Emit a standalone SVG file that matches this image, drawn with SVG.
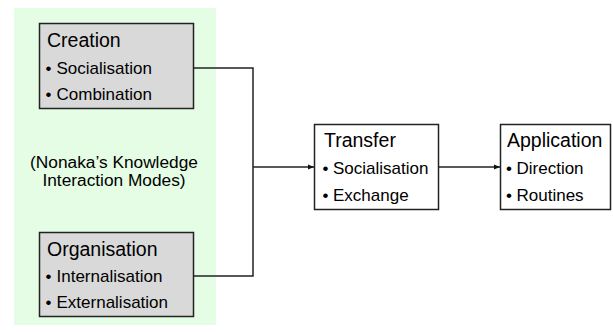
<svg xmlns="http://www.w3.org/2000/svg" width="613" height="332" viewBox="0 0 613 332">
  <style>
    .t { font-family: "Liberation Sans", Arial, sans-serif; fill: #000; }
    .title { font-size: 19.5px; }
    .item { font-size: 17px; }
    .note { font-size: 17.3px; }
    .grey { fill: #d9d9d9; stroke: #222; stroke-width: 1.5; }
    .white { fill: #fff; stroke: #222; stroke-width: 1.5; }
    .wire { fill: none; stroke: #222; stroke-width: 1.5; }
  </style>
  <defs>
    <marker id="arrow" viewBox="0 0 6 6" refX="6" refY="3" markerWidth="6" markerHeight="6" markerUnits="userSpaceOnUse" orient="auto">
      <path d="M0,0.5 L6,3 L0,5.5 Z" fill="#111"/>
    </marker>
  </defs>

  <!-- knowledge interaction modes panel -->
  <rect x="14" y="8" width="202" height="317" fill="#e5fde5"/>
  <text class="t note" x="114" y="168" text-anchor="middle">(Nonaka’s Knowledge</text>
  <text class="t note" x="114" y="186" text-anchor="middle">Interaction Modes)</text>

  <g id="creation">
    <rect class="grey" x="39.5" y="23.5" width="154" height="85"/>
    <text class="t title" x="47" y="47">Creation</text>
    <text class="t item" x="45.5" y="74">•</text>
    <text class="t item" x="56.5" y="74">Socialisation</text>
    <text class="t item" x="45.5" y="100">•</text>
    <text class="t item" x="56.5" y="100">Combination</text>
  </g>

  <g id="organisation">
    <rect class="grey" x="39.5" y="232.5" width="154" height="84"/>
    <text class="t title" x="47" y="256">Organisation</text>
    <text class="t item" x="45.5" y="282">•</text>
    <text class="t item" x="56.5" y="282">Internalisation</text>
    <text class="t item" x="45.5" y="308">•</text>
    <text class="t item" x="56.5" y="308">Externalisation</text>
  </g>

  <g id="transfer">
    <rect class="white" x="314.5" y="124.5" width="124" height="85"/>
    <text class="t title" x="324" y="147">Transfer</text>
    <text class="t item" x="322.5" y="174">•</text>
    <text class="t item" x="333" y="174">Socialisation</text>
    <text class="t item" x="322.5" y="201">•</text>
    <text class="t item" x="333" y="201">Exchange</text>
  </g>

  <g id="application">
    <rect class="white" x="500.5" y="124.5" width="110" height="85"/>
    <text class="t title" x="507" y="147">Application</text>
    <text class="t item" x="506" y="174">•</text>
    <text class="t item" x="516.5" y="174">Direction</text>
    <text class="t item" x="506" y="201">•</text>
    <text class="t item" x="516.5" y="201">Routines</text>
  </g>

  <g id="connectors">
    <polyline class="wire" points="193.5,68 253,68 253,276 193.5,276"/>
    <line class="wire" x1="253" y1="167" x2="314" y2="167" marker-end="url(#arrow)"/>
    <line class="wire" x1="438.5" y1="167" x2="500" y2="167" marker-end="url(#arrow)"/>
  </g>
</svg>
